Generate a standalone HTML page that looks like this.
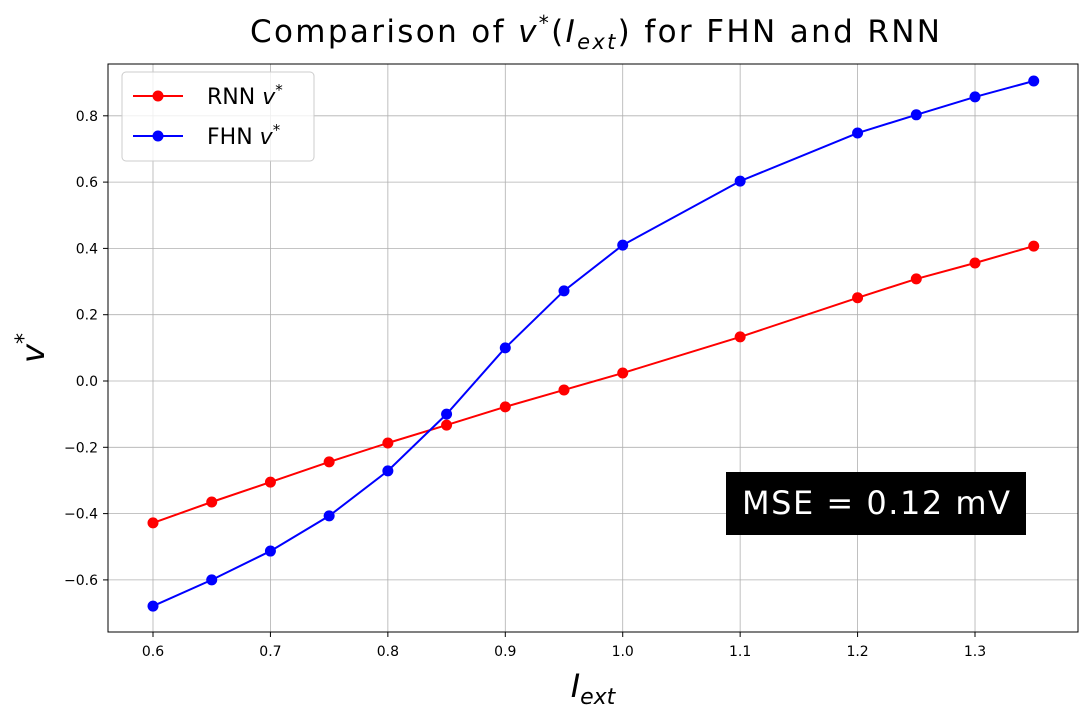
<!DOCTYPE html>
<html><head><meta charset="utf-8"><style>
body{margin:0;background:#fff;}
svg text{font-family:"DejaVu Sans","Liberation Sans",sans-serif;}
</style></head><body>
<svg id="chart" width="1089" height="716" xmlns="http://www.w3.org/2000/svg">
<text x="250" y="42" font-size="31" textLength="690" lengthAdjust="spacing">Comparison of <tspan font-style="italic">v</tspan><tspan dy="-12" font-size="20">*</tspan><tspan dy="12">(</tspan><tspan font-style="italic">I</tspan><tspan font-style="italic" font-size="21" dy="7">ext</tspan><tspan dy="-7">) for FHN and RNN</tspan></text>
<g id="grid"></g>
<g id="series"></g>
<rect x="108" y="64" width="970" height="568" fill="none" stroke="#000" stroke-width="1"/>
<text x="593" y="697" font-size="32" text-anchor="middle" font-style="italic">I<tspan font-size="22" dy="7">ext</tspan></text>
<text transform="translate(44,348) rotate(-90)" font-size="32" text-anchor="middle" font-style="italic">v<tspan font-size="22" dy="-13">*</tspan></text>
<g>
<rect x="122" y="72" width="192" height="89" rx="4" fill="#fff" stroke="#ccc" fill-opacity="0.8"/>
<g>
<line x1="133" y1="96" x2="183" y2="96" stroke="red" stroke-width="2"/><circle cx="158" cy="96" r="5.5" fill="red"/>
<text x="207" y="104" font-size="22">RNN <tspan font-style="italic">v</tspan><tspan font-size="15" dy="-9">*</tspan></text></g>
<g>
<line x1="133" y1="136" x2="183" y2="136" stroke="blue" stroke-width="2"/><circle cx="158" cy="136" r="5.5" fill="blue"/>
<text x="207" y="144" font-size="22">FHN <tspan font-style="italic">v</tspan><tspan font-size="15" dy="-9">*</tspan></text></g>
</g>
<g>
<rect x="726" y="472" width="300" height="63" fill="#000"/>
<text x="742" y="514" font-size="32" fill="#fff" textLength="268" lengthAdjust="spacing">MSE = 0.12 mV</text></g>
</svg>
<script>
const xValues=[0.6,0.65,0.7,0.75,0.8,0.85,0.9,0.95,1.0,1.1,1.2,1.25,1.3,1.35];
const rnnValues=[-0.428,-0.365,-0.305,-0.244,-0.187,-0.133,-0.078,-0.027,0.024,0.133,0.251,0.308,0.356,0.407];
const fhnValues=[-0.679,-0.600,-0.513,-0.407,-0.271,-0.100,0.100,0.272,0.410,0.603,0.748,0.803,0.857,0.905];
const xTicks=[0.6,0.7,0.8,0.9,1.0,1.1,1.2,1.3];
const yTicks=[-0.6,-0.4,-0.2,0.0,0.2,0.4,0.6,0.8];
const NS="http://www.w3.org/2000/svg";
function xs(v){return 153+(v-0.6)*1174.3;}
function ys(v){return 381-v*331.5;}
function mk(tag,attrs,parent){const e=document.createElementNS(NS,tag);for(const k in attrs)e.setAttribute(k,attrs[k]);parent.appendChild(e);return e;}
const grid=document.getElementById('grid');
xTicks.forEach(t=>{const x=xs(t);
 const g=mk('line',{x1:x,x2:x,y1:64,y2:632,stroke:'#b0b0b0','stroke-width':0.8},grid);
 
 
 mk('line',{x1:x,x2:x,y1:632,y2:637,stroke:'#000'},grid);
 const l=mk('text',{x:x,y:656,'font-size':14,'text-anchor':'middle'},grid);l.textContent=t.toFixed(1);
 
 
});
yTicks.forEach(t=>{const y=ys(t);
 const g=mk('line',{x1:108,x2:1078,y1:y,y2:y,stroke:'#b0b0b0','stroke-width':0.8},grid);
 
 
 mk('line',{x1:103,x2:108,y1:y,y2:y,stroke:'#000'},grid);
 const l=mk('text',{x:98,y:y+5,'font-size':14,'text-anchor':'end'},grid);l.textContent=(t<0?'\u2212':'')+Math.abs(t).toFixed(1);
 
 
});
const ser=document.getElementById('series');
function draw(vals,color,name){
 const g=mk('g',{},ser);
 
 
 const p=mk('polyline',{points:xValues.map((x,i)=>xs(x)+','+ys(vals[i])).join(' '),fill:'none',stroke:color,'stroke-width':2},g);
 
 
 xValues.forEach((x,i)=>{const c=mk('circle',{cx:xs(x),cy:ys(vals[i]),r:5.5,fill:color},g);
  
  });
}
draw(rnnValues,'red','rnn-series');
draw(fhnValues,'blue','fhn-series');
</script>
</body></html>
